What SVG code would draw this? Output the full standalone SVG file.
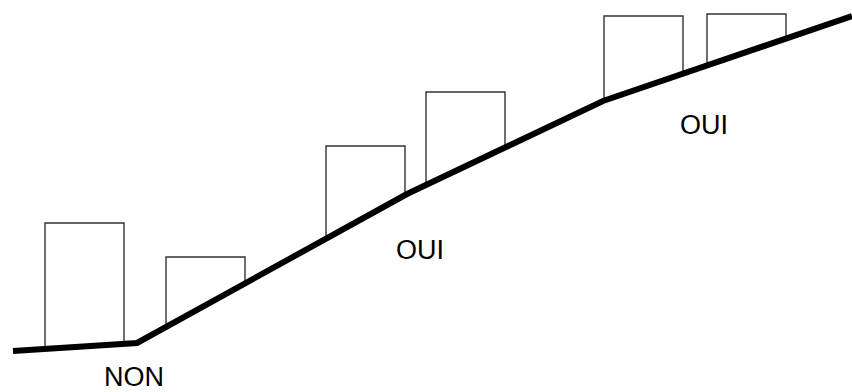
<svg xmlns="http://www.w3.org/2000/svg" width="852" height="392" viewBox="0 0 852 392">
<style>
.bld{fill:none;stroke:#333;stroke-width:1.4}
.ground{fill:none;stroke:#000;stroke-width:6;stroke-linejoin:miter}
.lbl{font-family:"Liberation Sans",Arial,sans-serif;font-size:27px;fill:#000;text-anchor:middle}
</style>
<rect width="852" height="392" fill="#fff"/>
<g id="building1"><polyline class="bld" points="45,349 45,223 124,223 124,344"/></g>
<g id="building2"><polyline class="bld" points="166,327 166,257 245,257 245,283"/></g>
<g id="building3"><polyline class="bld" points="326,239 326,146 405,146 405,195"/></g>
<g id="building4"><polyline class="bld" points="426,185 426,92 505,92 505,148"/></g>
<g id="building5"><polyline class="bld" points="604,101 604,16 683,16 683,74"/></g>
<g id="building6"><polyline class="bld" points="707,66 707,14 786,14 786,39"/></g>
<g id="connectors"><polyline class="ground" points="13,351 137,343 407,194 603,101 852,16"/></g>
<g id="label-non"><text class="lbl" x="134" y="386">NON</text></g>
<g id="label-oui1"><text class="lbl" x="420" y="259">OUI</text></g>
<g id="label-oui2"><text class="lbl" x="704" y="134">OUI</text></g>
</svg>
